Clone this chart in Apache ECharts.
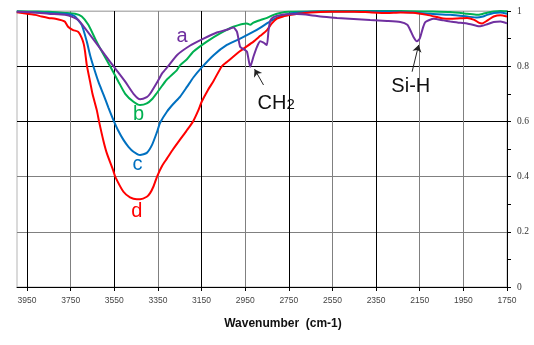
<!DOCTYPE html>
<html>
<head>
<meta charset="utf-8">
<script src="https://cdn.jsdelivr.net/npm/echarts@6/dist/echarts.min.js"></script>
<style>
  html, body { margin: 0; padding: 0; background: #fff; }
  #chart { width: 534px; height: 345px; }
</style>
</head>
<body>
<div id="chart"></div>
<script>
// FTIR transmittance spectra, wavenumber (cm-1) vs. transmittance
const tickWavenumbers = [1750, 1950, 2150, 2350, 2550, 2750, 2950, 3150, 3350, 3550, 3750, 3950];

const spectrumA = [
  [3997,0.997],[3900,0.994],[3852,0.99],[3776,0.986],[3740,0.978],[3715,0.967],[3684,0.937],
  [3638,0.889],[3592,0.84],[3546,0.792],[3500,0.744],[3462,0.70],[3432,0.68],[3401,0.688],
  [3386,0.70],[3355,0.74],[3330,0.775],[3303,0.80],[3263,0.84],[3202,0.875],[3141,0.90],
  [3080,0.922],[3034,0.932],[3004,0.94],[2988,0.925],[2973,0.87],[2958,0.862],[2942,0.853],
  [2927,0.798],[2912,0.835],[2896,0.87],[2881,0.89],[2866,0.885],[2851,0.877],[2843,0.93],
  [2835,0.965],[2820,0.978],[2790,0.985],[2759,0.988],[2713,0.989],[2650,0.985],[2606,0.98],
  [2529,0.975],[2453,0.971],[2377,0.967],[2300,0.964],[2239,0.96],[2207,0.95],[2193,0.93],
  [2178,0.905],[2163,0.89],[2150,0.9],[2135,0.94],[2124,0.96],[2086,0.972],[2041,0.966],
  [2010,0.962],[1964,0.957],[1933,0.955],[1887,0.946],[1872,0.945],[1841,0.952],[1811,0.96],
  [1780,0.962],[1750,0.955]
];

const spectrumB = [
  [3997,0.999],[3900,0.998],[3852,0.997],[3776,0.993],[3730,0.99],[3699,0.98],[3669,0.95],
  [3638,0.90],[3607,0.853],[3569,0.80],[3531,0.744],[3500,0.70],[3462,0.671],[3432,0.659],
  [3401,0.665],[3375,0.682],[3355,0.703],[3330,0.73],[3309,0.752],[3263,0.786],[3248,0.804],
  [3217,0.825],[3187,0.853],[3126,0.889],[3065,0.919],[3004,0.943],[2942,0.955],[2927,0.95],
  [2912,0.958],[2881,0.967],[2850,0.975],[2820,0.986],[2790,0.993],[2750,0.997],[2600,0.999],
  [2400,1.0],[2239,1.0],[2100,0.998],[2010,0.996],[1933,0.99],[1887,0.986],[1860,0.99],
  [1841,0.994],[1811,0.998],[1780,1.0],[1750,0.999]
];

const spectrumC = [
  [3997,0.997],[3900,0.995],[3852,0.993],[3776,0.99],[3740,0.985],[3730,0.98],[3699,0.949],
  [3676,0.889],[3661,0.84],[3646,0.80],[3623,0.744],[3600,0.698],[3577,0.65],[3554,0.605],
  [3531,0.565],[3508,0.533],[3485,0.508],[3462,0.49],[3432,0.478],[3401,0.486],[3377,0.515],
  [3355,0.56],[3340,0.595],[3309,0.635],[3280,0.663],[3248,0.69],[3217,0.725],[3187,0.76],
  [3150,0.795],[3095,0.84],[3034,0.877],[2973,0.90],[2912,0.925],[2880,0.94],[2851,0.955],
  [2820,0.97],[2790,0.98],[2750,0.99],[2700,0.995],[2600,0.998],[2400,0.998],[2239,0.997],
  [2100,0.99],[2010,0.986],[1933,0.98],[1887,0.976],[1860,0.98],[1841,0.986],[1811,0.993],
  [1780,0.995],[1750,0.99]
];

const spectrumD = [
  [3997,0.995],[3950,0.99],[3913,0.986],[3883,0.98],[3852,0.975],[3820,0.972],[3790,0.966],
  [3776,0.961],[3762,0.943],[3739,0.931],[3716,0.925],[3699,0.902],[3690,0.88],[3684,0.853],
  [3676,0.804],[3661,0.744],[3650,0.70],[3630,0.64],[3620,0.60],[3600,0.53],[3584,0.484],
  [3554,0.42],[3546,0.40],[3508,0.345],[3478,0.325],[3447,0.318],[3432,0.318],[3401,0.327],
  [3386,0.34],[3370,0.365],[3354,0.40],[3330,0.44],[3309,0.465],[3280,0.50],[3248,0.535],
  [3220,0.565],[3189,0.60],[3165,0.64],[3149,0.672],[3120,0.715],[3097,0.744],[3057,0.80],
  [3034,0.815],[2973,0.855],[2912,0.889],[2881,0.91],[2851,0.93],[2828,0.955],[2805,0.972],
  [2776,0.98],[2740,0.986],[2711,0.99],[2650,0.995],[2560,0.997],[2450,0.997],[2400,0.996],
  [2300,0.993],[2239,0.995],[2180,0.994],[2117,0.986],[2070,0.978],[2042,0.973],[2010,0.972],
  [1979,0.973],[1933,0.975],[1900,0.968],[1880,0.958],[1864,0.955],[1841,0.965],[1811,0.98],
  [1780,0.985],[1750,0.98]
];

// curve letters and band annotations: [wavenumber, transmittance]
const curveLabels = [
  { name: 'a', at: [3239, 0.906] },
  { name: 'b', at: [3439, 0.626] },
  { name: 'c', at: [3444, 0.445] },
  { name: 'd', at: [3447, 0.273] }
];
const bandLabels = [
  { name: 'CH2', at: [2808, 0.665] },
  { name: 'Si-H', at: [2191, 0.725] }
];
const bandArrows = [
  [[2866, 0.732], [2907, 0.789]],
  [[2185, 0.78], [2155, 0.877]]
];

const colors = { a: '#7030A0', b: '#00B050', c: '#0070C0', d: '#FF0000' };
const SANS = 'Liberation Sans, Arial, sans-serif';

function letterMark(key) {
  const item = curveLabels.find(l => l.name === key);
  return {
    silent: true,
    symbol: 'circle',
    symbolSize: 1,
    itemStyle: { color: 'rgba(0,0,0,0)' },
    label: {
      show: true, position: 'inside', formatter: '{b}',
      color: colors[key], fontFamily: SANS, fontSize: 20
    },
    data: [{ name: item.name, coord: item.at }]
  };
}

function makeSeries(key, data, extra) {
  return Object.assign({
    name: key,
    type: 'line',
    data: data,
    showSymbol: false,
    symbol: 'none',
    smooth: 0.2,
    lineStyle: { color: colors[key], width: 2 },
    itemStyle: { color: colors[key] },
    z: 3,
    markPoint: letterMark(key)
  }, extra || {});
}

const chart = echarts.init(document.getElementById('chart'), null, { renderer: 'canvas' });

const bandMarkPoints = {
  silent: true,
  symbol: 'circle',
  symbolSize: 1,
  itemStyle: { color: 'rgba(0,0,0,0)' },
  data: bandLabels.map(l => ({
    name: l.name,
    coord: l.at,
    label: {
      show: true, position: 'inside',
      formatter: l.name === 'CH2' ? '{m|CH}{s|2}' : '{m|' + l.name + '}',
      rich: {
        m: { fontFamily: SANS, fontSize: 20, color: '#111', verticalAlign: 'bottom' },
        s: { fontFamily: SANS, fontSize: 15, color: '#111', verticalAlign: 'bottom', padding: [0, 0, 1, 0] }
      }
    }
  }))
};

const bandMarkLines = {
  silent: true,
  symbol: ['none', 'arrow'],
  symbolSize: 7,
  label: { show: false },
  lineStyle: { color: '#222', width: 1, type: 'solid' },
  data: bandArrows.map(a => [{ coord: a[0] }, { coord: a[1] }])
};

chart.setOption({
  animation: false,
  backgroundColor: '#fff',
  grid: {
    left: 17, right: 27, top: 11, bottom: 58,
    show: true, borderColor: '#b5b5b5', borderWidth: 1
  },
  xAxis: {
    type: 'value',
    min: 1750,
    max: 3996,
    inverse: true,
    name: 'Wavenumber  (cm-1)',
    nameLocation: 'middle',
    nameGap: 31,
    nameTextStyle: {
      fontFamily: SANS, fontSize: 12, fontWeight: 'bold', color: '#111',
      padding: [0, 0, 0, 42]
    },
    axisLine: { show: true, onZero: false, lineStyle: { color: '#000', width: 1 } },
    axisTick: { show: true, inside: false, length: 4, customValues: tickWavenumbers,
      lineStyle: { color: '#000' } },
    axisLabel: {
      customValues: tickWavenumbers,
      formatter: v => String(v),
      margin: 9, fontFamily: SANS, fontSize: 8.5, color: '#444'
    },
    splitLine: {
      show: true,
      lineStyle: {
        width: 1,
        color: ['#000', '#808080', '#808080', '#000', '#808080', '#000',
                '#808080', '#000', '#808080', '#000', '#808080', '#000']
      }
    }
  },
  yAxis: {
    type: 'value',
    position: 'right',
    min: 0,
    max: 1,
    interval: 0.2,
    axisLine: { show: true, lineStyle: { color: '#000', width: 1 } },
    axisTick: { show: true, inside: false, length: 4, lineStyle: { color: '#000' } },
    minorTick: { show: true, splitNumber: 2, length: 4, lineStyle: { color: '#000' } },
    axisLabel: {
      margin: 10, fontFamily: 'Liberation Serif, Times New Roman, serif', fontSize: 9.5, color: '#333'
    },
    splitLine: {
      show: true,
      lineStyle: { width: 1, color: ['#000', '#808080', '#808080', '#000', '#000', '#b5b5b5'] }
    }
  },
  series: [
    makeSeries('b', spectrumB),
    makeSeries('c', spectrumC),
    makeSeries('d', spectrumD),
    makeSeries('a', spectrumA, { z: 4 }),
    {
      name: 'bands',
      type: 'line',
      data: [],
      symbol: 'none',
      markPoint: bandMarkPoints,
      markLine: bandMarkLines
    }
  ]
});
</script>
</body>
</html>
